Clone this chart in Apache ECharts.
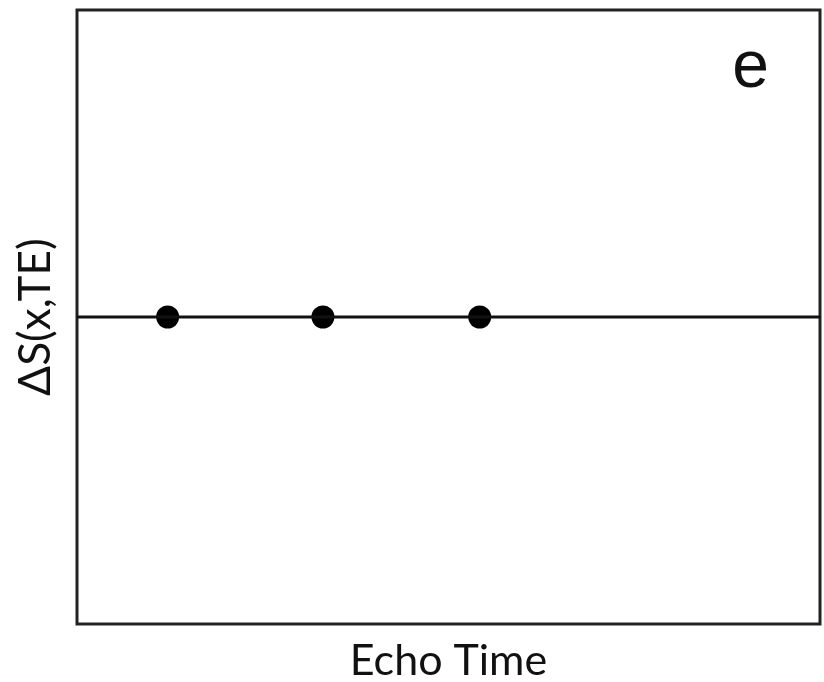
<!DOCTYPE html>
<html>
<head>
<meta charset="utf-8">
<script src="https://cdn.jsdelivr.net/npm/echarts@6/dist/echarts.min.js"></script>
<style>html,body{margin:0;padding:0;background:#fff}#c{width:824px;height:682px}</style>
</head>
<body>
<div id="c"></div>
<script>
var xMin = 0, xMax = 10;
var yMin = -1, yMax = 1;
var lineX = [0, 10];
var lineY = [0, 0];
var pointX = [1.22, 3.31, 5.42];
var pointY = [0, 0, 0];
var xLabel = 'Echo Time';
var yLabel = 'ΔS(x,TE)';
var panelLabel = 'e';

var chart = echarts.init(document.getElementById('c'));
chart.setOption({
  animation: false,
  backgroundColor: '#fff',
  title: {
    text: panelLabel,
    right: 50, top: 31,
    textStyle: { fontFamily: 'Liberation Sans', fontSize: 66, fontWeight: 'normal', color: '#111' }
  },
  grid: { left: 77, right: 4, top: 10, bottom: 58, show: true, borderColor: '#222', borderWidth: 3, outerBoundsMode: 'none', containLabel: false },
  xAxis: {
    type: 'value', min: xMin, max: xMax,
    name: xLabel, nameLocation: 'middle', nameGap: 16,
    nameTextStyle: { fontFamily: 'Lato', fontSize: 43, color: '#111' },
    axisLine: { show: false }, axisTick: { show: false }, axisLabel: { show: false }, splitLine: { show: false }
  },
  yAxis: {
    type: 'value', min: yMin, max: yMax,
    name: yLabel, nameLocation: 'middle', nameGap: 19, nameRotate: 90,
    nameTextStyle: { fontFamily: 'Lato', fontSize: 44, color: '#111' },
    axisLine: { show: false }, axisTick: { show: false }, axisLabel: { show: false }, splitLine: { show: false }
  },
  series: [
    {
      type: 'line',
      data: lineX.map(function (x, i) { return [x, lineY[i]]; }),
      showSymbol: false, symbol: 'none',
      lineStyle: { color: '#111', width: 3 }
    },
    {
      type: 'scatter',
      data: pointX.map(function (x, i) { return [x, pointY[i]]; }),
      symbol: 'circle', symbolSize: 23,
      itemStyle: { color: '#000', opacity: 1 }
    }
  ]
});
</script>
</body>
</html>
